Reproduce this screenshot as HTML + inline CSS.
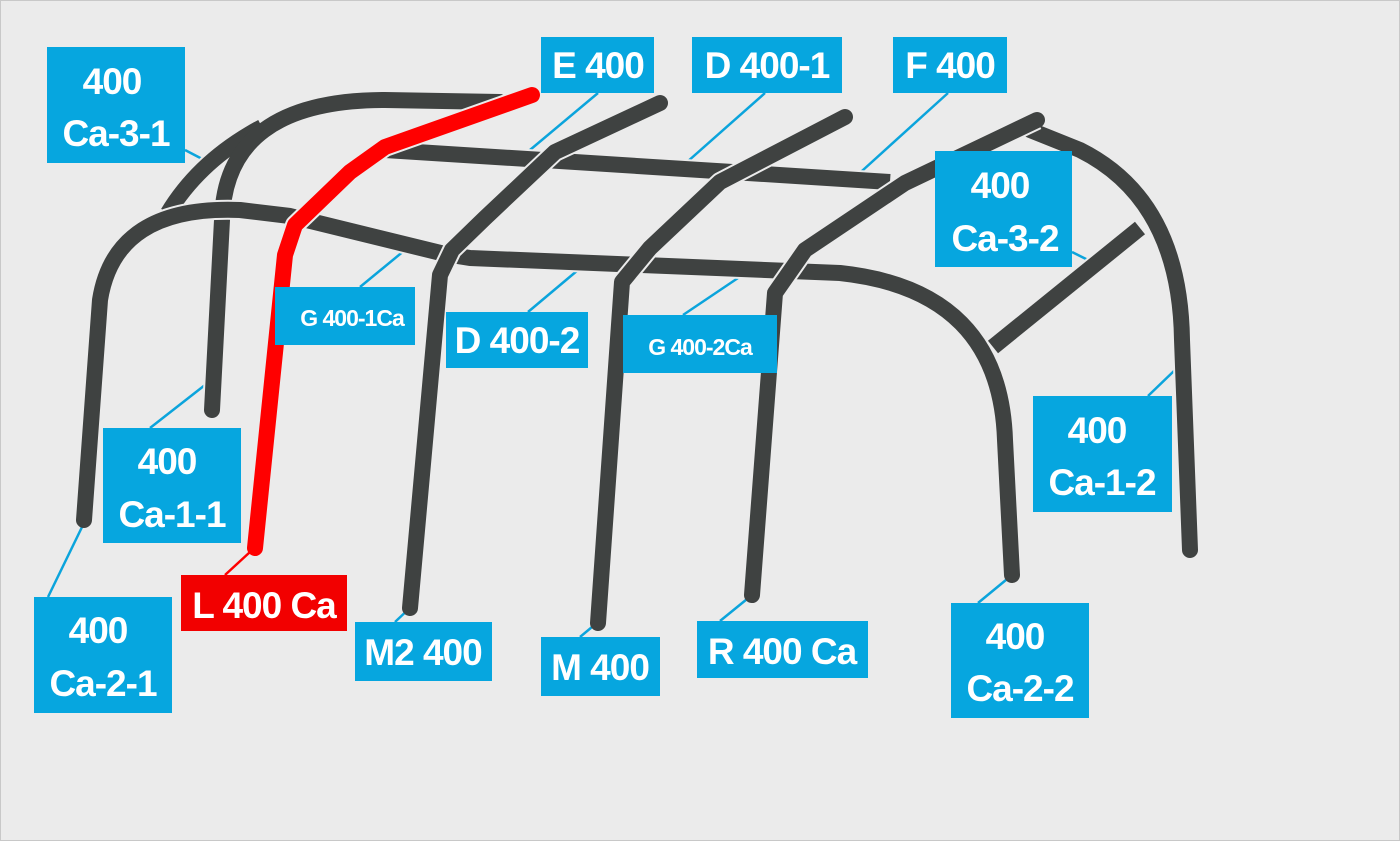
<!DOCTYPE html>
<html><head><meta charset="utf-8"><style>
html,body{margin:0;padding:0;background:#ebebeb;}
svg{display:block;}
text{font-family:"Liberation Sans Narrow","Liberation Sans",sans-serif;font-weight:bold;fill:#fff;text-anchor:middle;letter-spacing:-1px;}
</style></head><body>
<svg width="1400" height="841" viewBox="0 0 1400 841" xmlns="http://www.w3.org/2000/svg">
<rect x="0.5" y="0.5" width="1399" height="840" fill="#ebebeb" stroke="#c8c8c8"/>
<g stroke="#0ba4dc" stroke-width="2.5" fill="none">
<line x1="185" y1="150" x2="208" y2="162"/>
<line x1="598" y1="93" x2="518" y2="160"/>
<line x1="765" y1="93" x2="678" y2="170"/>
<line x1="948" y1="93" x2="852" y2="180"/>
<line x1="1072" y1="252" x2="1092" y2="262"/>
<line x1="360" y1="287" x2="405" y2="250"/>
<line x1="528" y1="312" x2="578" y2="270"/>
<line x1="683" y1="315" x2="738" y2="278"/>
<line x1="150" y1="428" x2="205" y2="385"/>
<line x1="1148" y1="396" x2="1175" y2="370"/>
<line x1="48" y1="597" x2="83" y2="525"/>
<line x1="395" y1="622" x2="413" y2="605"/>
<line x1="580" y1="637" x2="598" y2="622"/>
<line x1="720" y1="621" x2="752" y2="595"/>
<line x1="978" y1="603" x2="1012" y2="575"/>
</g>
<g fill="none" stroke-linejoin="round">
<g stroke="#ebebeb" stroke-width="20" stroke-linecap="butt">
<path d="M168 213 Q200 160 262 127"/>
<path d="M212 410 L222 220 Q225 100 385 100 L500 102"/>
<path d="M385 150 L890 182"/>
<path d="M1140 228 L993 347"/>
<path d="M1030 130 L1080 150 Q1180 200 1182 340 L1190 550"/>
</g>
<g stroke="#3f4241" stroke-width="16">
<path d="M168 213 Q200 160 262 127" stroke-linecap="butt"/>
<path d="M212 410 L222 220 Q225 100 385 100 L500 102" stroke-linecap="round"/>
<path d="M385 150 L890 182" stroke-linecap="butt"/>
<path d="M1140 228 L993 347" stroke-linecap="butt"/>
<path d="M1030 130 L1080 150 Q1180 200 1182 340 L1190 550" stroke-linecap="round"/>
</g>
<path d="M84 520 L100 300 Q115 205 240 210 L290 216 L445 254 L470 258 L840 273 Q1000 290 1005 440 L1012 575" stroke="#ebebeb" stroke-width="20"/>
<path d="M84 520 L100 300 Q115 205 240 210 L290 216 L445 254 L470 258 L840 273 Q1000 290 1005 440 L1012 575" stroke="#3f4241" stroke-width="16" stroke-linecap="round"/>
<g stroke="#ebebeb" stroke-width="20">
<path d="M660 103 L555 152 L485 218 L452 250 L440 275 L410 608"/>
<path d="M845 117 L720 182 L650 248 L622 282 L598 623"/>
<path d="M1037 120 L905 183 L805 250 L775 293 L752 595"/>
<path d="M532 95 L385 147 L350 172 L295 225 L285 255 L255 548"/>
</g>
<g stroke="#3f4241" stroke-width="16" stroke-linecap="round">
<path d="M660 103 L555 152 L485 218 L452 250 L440 275 L410 608"/>
<path d="M845 117 L720 182 L650 248 L622 282 L598 623"/>
<path d="M1037 120 L905 183 L805 250 L775 293 L752 595"/>
</g>
<path d="M532 95 L385 147 L350 172 L295 225 L285 255 L255 548" stroke="#ff0000" stroke-width="16" stroke-linecap="round"/>
<line x1="225" y1="575" x2="250" y2="552" stroke="#ff0000" stroke-width="2.5"/>
</g>
<g fill="#06a6df">
<rect x="47" y="47" width="138" height="116"/>
<rect x="541" y="37" width="113" height="56"/>
<rect x="692" y="37" width="150" height="56"/>
<rect x="893" y="37" width="114" height="56"/>
<rect x="935" y="151" width="137" height="116"/>
<rect x="275" y="287" width="140" height="58"/>
<rect x="446" y="312" width="142" height="56"/>
<rect x="623" y="315" width="154" height="58"/>
<rect x="103" y="428" width="138" height="115"/>
<rect x="1033" y="396" width="139" height="116"/>
<rect x="34" y="597" width="138" height="116"/>
<rect x="355" y="622" width="137" height="59"/>
<rect x="541" y="637" width="119" height="59"/>
<rect x="697" y="621" width="171" height="57"/>
<rect x="951" y="603" width="138" height="115"/>
</g>
<rect x="181" y="575" width="166" height="56" fill="#f20000"/>
<g font-size="37">
<text x="112" y="94">400</text><text x="116" y="146">Ca-3-1</text>
<text x="598" y="78">E 400</text>
<text x="767" y="78">D 400-1</text>
<text x="950" y="78">F 400</text>
<text x="1000" y="198">400</text><text x="1005" y="251">Ca-3-2</text>
<text x="517" y="353">D 400-2</text>
<text x="167" y="474">400</text><text x="172" y="527">Ca-1-1</text>
<text x="1097" y="443">400</text><text x="1102" y="495">Ca-1-2</text>
<text x="98" y="643">400</text><text x="103" y="696">Ca-2-1</text>
<text x="264" y="618">L 400 Ca</text>
<text x="423" y="665">M2 400</text>
<text x="600" y="680">M 400</text>
<text x="782" y="664">R 400 Ca</text>
<text x="1015" y="649">400</text><text x="1020" y="701">Ca-2-2</text>
</g>
<g font-size="23">
<text x="352" y="326">G 400-1Ca</text>
<text x="700" y="355">G 400-2Ca</text>
</g>
</svg>
</body></html>
